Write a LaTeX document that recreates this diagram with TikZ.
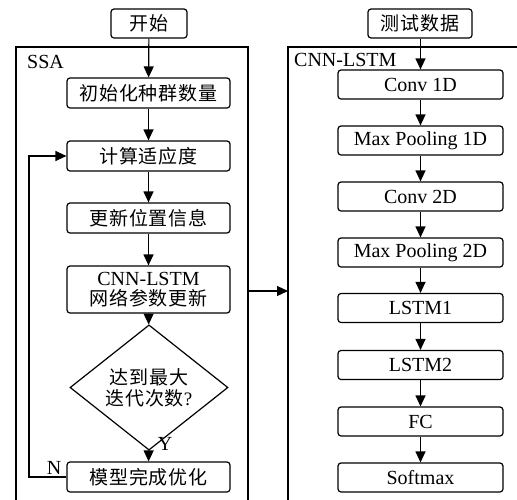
\documentclass[tikz,border=0pt]{standalone}
\usepackage{fontspec}
\setmainfont{Liberation Serif}
\newfontfamily\cjk[LetterSpace=4]{Noto Sans CJK SC}
\usetikzlibrary{arrows.meta,shapes.geometric}
\tikzset{
  ln/.style={line width=1.2pt},
  arr/.style={ln,-{Triangle[length=11pt,width=10pt]}},
  lbox/.style={draw,ln,rounded corners=3pt,inner sep=0pt,minimum width=163pt,minimum height=30pt,font=\fontsize{19}{21}\selectfont,align=center},
  rbox/.style={lbox,minimum width=165pt,minimum height=29pt,font=\fontsize{20}{22}\selectfont},
  lbl/.style={font=\fontsize{20}{22}\selectfont,inner sep=0pt}
}
\begin{document}
\begin{tikzpicture}[x=1pt,y=-1pt]
\useasboundingbox (0,0) rectangle (517,499);
\begin{scope}
\clip (0,0) rectangle (517,499);
% frames
\draw[ln] (248,510) -- (248,47) -- (16,47) -- (16,510);
\draw[ln] (530,47) -- (288,47) -- (288,510);
\end{scope}
\node[lbl,anchor=west] (ssalbl) at (27,62) {SSA};
\node[lbl,anchor=west] (cnnlbl) at (294,60) {CNN-LSTM};
% left column
\node[lbox,minimum width=76pt,minimum height=29pt] (start) at (149,23.5) {\cjk 开始};
\node[lbox] (init) at (148.5,93) {\cjk 初始化种群数量};
\node[lbox] (fit) at (148.5,156) {\cjk 计算适应度};
\node[lbox] (upd) at (148.5,218) {\cjk 更新位置信息};
\node[lbox,minimum height=47pt,font=\fontsize{19}{20}\selectfont] (net) at (148.5,289.5) {{\fontsize{20}{20}\selectfont CNN-LSTM}\\{\cjk 网络参数更新}};
\node[draw,ln,diamond,inner sep=0pt,minimum width=158pt,minimum height=81pt,align=center,font=\fontsize{19}{21}\selectfont] (dec) at (149,387.5) {{\cjk 达到最大}\\{\cjk 迭代次数}?};
\node[lbox] (done) at (148.5,477) {\cjk 模型完成优化};
\draw[arr] (start) -- (init);
\draw[arr] (init) -- (fit);
\draw[arr] (fit) -- (upd);
\draw[arr] (upd) -- (net);
\draw[arr] (net) -- (dec);
\draw[arr] (dec) -- (done);
\node[lbl] (ylbl) at (165,444) {Y};
\coordinate (lp) at (29,477);
\draw[arr] (done.west) -- (lp) -- (lp |- fit.west) -- (fit.west);
\node[lbl] (nlbl) at (54,468) {N};
% connection
\coordinate (ssaR) at (248,291);
\coordinate (cnnL) at (288,291);
\draw[arr] (ssaR) -- (cnnL);
% right column
\node[lbox,minimum width=104pt,minimum height=29pt] (test) at (420,23.5) {\cjk 测试数据};
\node[rbox] (c1) at (420.5,84.5) {Conv 1D};
\node[rbox] (m1) at (420.5,140.5) {Max Pooling 1D};
\node[rbox] (c2) at (420.5,196.5) {Conv 2D};
\node[rbox] (m2) at (420.5,252.5) {Max Pooling 2D};
\node[rbox] (l1) at (420.5,308) {LSTM1};
\node[rbox] (l2) at (420.5,365) {LSTM2};
\node[rbox] (fc) at (420.5,421.5) {FC};
\node[rbox] (sm) at (420.5,477.5) {Softmax};
\draw[arr] (test.south -| c1.north) -- (c1);
\draw[arr] (c1) -- (m1);
\draw[arr] (m1) -- (c2);
\draw[arr] (c2) -- (m2);
\draw[arr] (m2) -- (l1);
\draw[arr] (l1) -- (l2);
\draw[arr] (l2) -- (fc);
\draw[arr] (fc) -- (sm);
\end{tikzpicture}
\end{document}
